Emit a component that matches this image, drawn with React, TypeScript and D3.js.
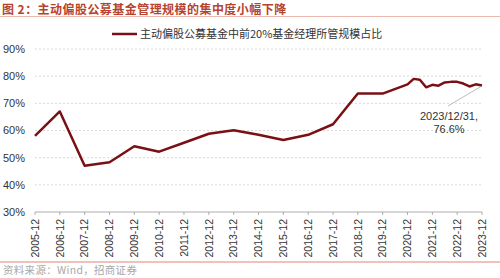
import React from "react";
import * as d3 from "d3";

const TITLE = "图 2：主动偏股公募基金管理规模的集中度小幅下降";
const SERIES_NAME = "主动偏股公募基金中前20%基金经理所管规模占比";
const SOURCE = "资料来源：Wind，招商证券";

const dates: string[] = [
  "2005-12-31", "2006-12-31", "2007-12-31", "2008-12-31", "2009-12-31",
  "2010-12-31", "2011-12-31", "2012-12-31", "2013-12-31", "2014-12-31",
  "2015-12-31", "2016-12-31", "2017-12-31", "2018-12-31", "2019-12-31",
  "2020-12-31", "2021-03-31", "2021-06-30", "2021-09-30", "2021-12-31",
  "2022-03-31", "2022-06-30", "2022-09-30", "2022-12-31", "2023-03-31",
  "2023-06-30", "2023-09-30", "2023-12-31",
];
const values: number[] = [
  58.0, 67.0, 47.0, 48.3, 54.2,
  52.2, 55.5, 58.8, 60.1, 58.4,
  56.5, 58.4, 62.3, 73.6, 73.6,
  77.0, 79.0, 78.7, 75.9, 76.8,
  76.5, 77.7, 77.9, 77.9, 77.3,
  76.2, 77.0, 76.6,
];
const tickYears: number[] = d3.range(2005, 2024);
const yTicks: number[] = [30, 40, 50, 60, 70, 80, 90];
const annotationLines = ["2023/12/31,", "76.6%"];

export default function App() {
  const W = 500, H = 278;
  const parse = d3.timeParse("%Y-%m-%d");
  const pts = dates.map((d, i) => ({ date: parse(d) as Date, v: values[i] }));
  const x = d3
    .scaleTime()
    .domain([new Date(2005, 11, 31), new Date(2023, 11, 31)])
    .range([35, 482]);
  const y = d3.scaleLinear().domain([30, 90]).range([212, 49]);
  const line = d3
    .line<{ date: Date; v: number }>()
    .x((d) => x(d.date))
    .y((d) => y(d.v));
  const last = pts[pts.length - 1];
  const lx = x(last.date);
  const ly = y(last.v);
  const font = "Arial, 'Liberation Sans', 'Noto Sans CJK SC', sans-serif";
  const cjk = "'Noto Sans CJK SC', sans-serif";

  return (
    <svg
      width={W}
      height={H}
      style={{ position: "absolute", left: 0, top: 0, background: "#fff" }}
    >
      <text
        x={2}
        y={13.5}
        fontFamily={cjk}
        fontSize={12}
        fontWeight="bold"
        letterSpacing={0.45}
        fill="#B5442E"
      >
        {TITLE}
      </text>
      <line x1={0} x2={500} y1={16.5} y2={16.5} stroke="#E3A79A" strokeWidth={0.8} />

      {/* legend */}
      <line x1={112} x2={137} y1={34} y2={34} stroke="#7A1014" strokeWidth={2.5} />
      <text x={140} y={38} fontFamily={cjk} fontSize={11} fill="#333">
        {SERIES_NAME}
      </text>

      {/* gridlines and y labels */}
      {yTicks.map((t) => (
        <g key={t}>
          {t > 30 && (
            <line
              x1={35}
              x2={482}
              y1={y(t)}
              y2={y(t)}
              stroke="#d0d0d0"
              strokeWidth={0.8}
              strokeDasharray="2,2"
            />
          )}
          <text x={3} y={y(t)} dy="0.35em" fontFamily={font} fontSize={11} fill="#333">
            {t}%
          </text>
        </g>
      ))}

      {/* x axis */}
      <line x1={35} x2={482} y1={212} y2={212} stroke="#999" strokeWidth={0.8} />
      {tickYears.map((yr) => {
        const tx = x(new Date(yr, 11, 31));
        return (
          <g key={yr}>
            <line x1={tx} x2={tx} y1={212} y2={215} stroke="#999" strokeWidth={0.8} />
            <text
              transform={`translate(${tx},219) rotate(-90)`}
              textAnchor="end"
              dy="0.35em"
              fontFamily={font}
              fontSize={10.5}
              fill="#333"
            >
              {`${yr}-12`}
            </text>
          </g>
        );
      })}

      {/* series */}
      <path
        d={line(pts) || ""}
        fill="none"
        stroke="#7A1014"
        strokeWidth={2.5}
        strokeLinejoin="round"
      />

      {/* annotation */}
      <line x1={448} y1={106} x2={lx - 1} y2={ly + 1} stroke="#aaa" strokeWidth={0.8} />
      {annotationLines.map((s, i) => (
        <text
          key={i}
          x={449}
          y={120 + i * 13}
          textAnchor="middle"
          fontFamily={font}
          fontSize={11}
          fill="#333"
        >
          {s}
        </text>
      ))}

      {/* bottom rule and source */}
      <line x1={0} x2={500} y1={262} y2={262} stroke="#D9664F" strokeWidth={0.8} />
      <text x={3} y={274} fontFamily={cjk} fontSize={10.5} letterSpacing={0.3} fill="#a8a8a8">
        {SOURCE}
      </text>
    </svg>
  );
}
